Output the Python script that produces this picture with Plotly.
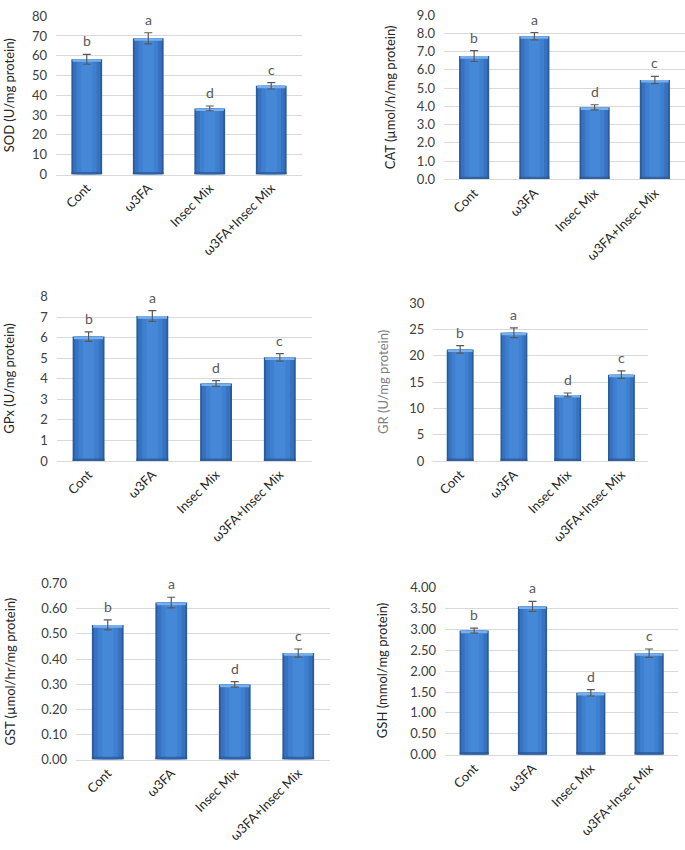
import plotly.graph_objects as go

groups = ["Cont", "ω3FA", "Insec Mix", "ω3FA+Insec Mix"]
letters = ["b", "a", "d", "c"]

sod = [58.2, 68.8, 33.4, 44.8]
sod_err = [2.5, 2.8, 1.2, 1.6]
cat = [6.76, 7.85, 3.95, 5.45]
cat_err = [0.30, 0.20, 0.14, 0.20]
gpx = [6.05, 7.05, 3.77, 5.04]
gpx_err = [0.23, 0.26, 0.14, 0.18]
gr = [21.2, 24.35, 12.55, 16.4]
gr_err = [0.7, 0.93, 0.37, 0.7]
gst = [0.536, 0.625, 0.299, 0.424]
gst_err = [0.020, 0.021, 0.011, 0.016]
gsh = [2.97, 3.55, 1.48, 2.43]
gsh_err = [0.06, 0.12, 0.075, 0.10]

y_titles = ["SOD (U/mg protein)", "CAT (µmol/h/mg protein)", "GPx (U/mg protein)",
            "GR (U/mg protein)", "GST (µmol/hr/mg protein)", "GSH (mmol/mg protein)"]
y_max = [80, 9.0, 8, 30, 0.70, 4.00]
y_dtick = [10, 1.0, 1, 5, 0.10, 0.50]
y_fmt = ["d", ".1f", "d", "d", ".2f", ".2f"]

W, H = 685, 850
# plot areas in pixels: x0, x1, ytop, ybottom
boxes = [
    (56, 302, 8.3, 169.7),
    (444, 685, 7.3, 174.7),
    (56.7, 311.7, 294, 461.7),
    (433.3, 648.3, 300.7, 461.7),
    (76, 330, 586.7, 766),
    (445, 678.3, 590.7, 761),
]
title_x = [9, 390, 9, 383, 10, 382]
title_col = ["#262626", "#262626", "#262626", "#7f7f7f", "#262626", "#262626"]

vals = [sod, cat, gpx, gr, gst, gsh]
errs = [sod_err, cat_err, gpx_err, gr_err, gst_err, gsh_err]

FONT = "Lato"
fig = go.Figure()
layout = dict(width=W, height=H, margin=dict(l=0, r=0, t=0, b=0),
              paper_bgcolor="white", plot_bgcolor="white", showlegend=False,
              barmode="overlay", font=dict(family=FONT, size=13, color="#404040"))
annotations = []

for i in range(6):
    n = "" if i == 0 else str(i + 1)
    xa, ya = "x" + n, "y" + n
    v, e = vals[i], errs[i]
    bev = y_max[i] * 0.016
    fig.add_trace(go.Bar(x=groups, y=v, width=0.5, marker=dict(color="#2a5b9b", line=dict(width=0)),
                         xaxis=xa, yaxis=ya, hoverinfo="skip"))
    fig.add_trace(go.Bar(x=groups, y=v, width=0.44, marker=dict(color="#3672c0", line=dict(width=0)),
                         xaxis=xa, yaxis=ya, hoverinfo="skip"))
    fig.add_trace(go.Bar(x=groups, y=v, width=0.32, marker=dict(color="#3f7fcf", line=dict(width=0)),
                         xaxis=xa, yaxis=ya, hoverinfo="skip"))
    fig.add_trace(go.Bar(x=groups, y=v, width=0.18, marker=dict(color="#4688d8", line=dict(width=0)),
                         xaxis=xa, yaxis=ya, hoverinfo="skip"))
    fig.add_trace(go.Bar(x=groups, y=[bev] * 4, base=[0] * 4, width=0.5,
                         marker=dict(color="#2a5590", opacity=0.7, line=dict(width=0)),
                         xaxis=xa, yaxis=ya, hoverinfo="skip"))
    fig.add_trace(go.Bar(x=groups, y=[bev] * 4, base=[a - bev for a in v], width=0.46,
                         marker=dict(color="#78b0ec", line=dict(width=0)),
                         xaxis=xa, yaxis=ya, hoverinfo="skip"))
    fig.add_trace(go.Scatter(x=groups, y=v, mode="markers", marker=dict(size=1, opacity=0),
                             error_y=dict(type="data", array=e, visible=True, color="#595959",
                                          thickness=1.2, width=4),
                             xaxis=xa, yaxis=ya, hoverinfo="skip"))
    for g, lt, a, b in zip(groups, letters, v, e):
        annotations.append(dict(text=lt, x=g, y=a + b, xref=xa, yref=ya, showarrow=False,
                                xanchor="center", yanchor="bottom", yshift=3,
                                font=dict(family=FONT, size=14, color="#595959")))

    x0, x1, yt, yb = boxes[i]
    layout["xaxis" + n] = dict(domain=[x0 / W, x1 / W], anchor=ya, tickangle=-45,
                               showgrid=False, showline=True, linecolor="#d9d9d9", linewidth=1,
                               ticks="", tickfont=dict(family=FONT, size=13, color="#262626"),
                               fixedrange=True)
    layout["yaxis" + n] = dict(domain=[1 - yb / H, 1 - yt / H], anchor=xa,
                               range=[0, y_max[i]], dtick=y_dtick[i], tick0=0,
                               tickformat=y_fmt[i], showgrid=True, gridcolor="#d9d9d9",
                               gridwidth=1, zeroline=False, showline=False, ticks="",
                               ticklabelstandoff=8,
                               tickfont=dict(family=FONT, size=13, color="#404040"),
                               fixedrange=True)
    annotations.append(dict(text=y_titles[i], xref="paper", yref="paper",
                            x=title_x[i] / W, y=1 - (yt + yb) / 2 / H, textangle=-90,
                            showarrow=False, xanchor="center", yanchor="middle",
                            font=dict(family=FONT, size=13, color=title_col[i])))

layout["annotations"] = annotations
fig.update_layout(**layout)
fig.write_html("out.html")
